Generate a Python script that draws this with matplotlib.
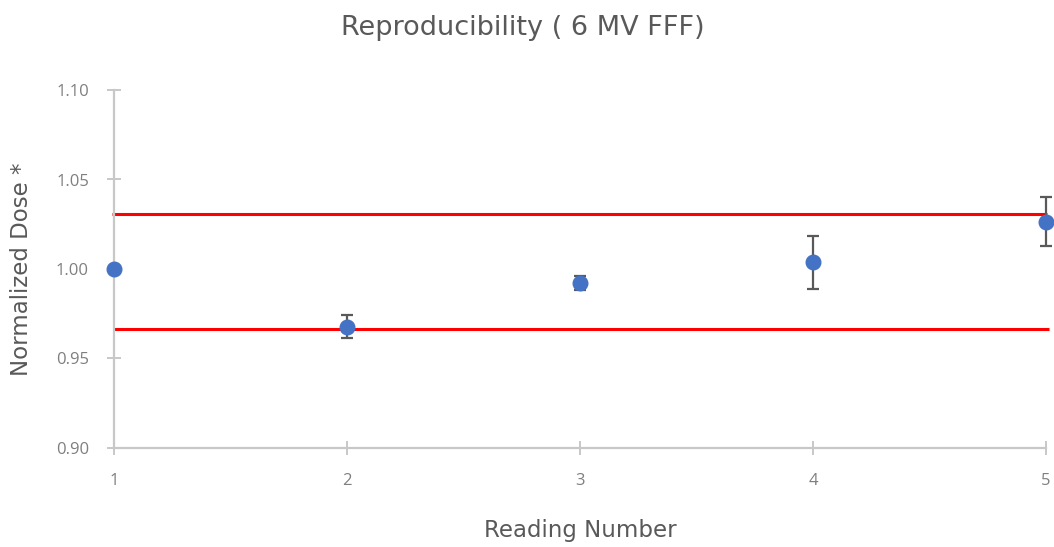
import matplotlib.pyplot as plt

plt.rcParams['font.family'] = ['DejaVu Sans']

# readings and normalized dose with standard deviation
reading = [1, 2, 3, 4, 5]
dose = [1.000, 0.9678, 0.9923, 1.0037, 1.0264]
dose_err = [0.0, 0.0066, 0.004, 0.0147, 0.0136]

# tolerance limits (upper, lower) and their x extent
limit_y = [1.031, 0.9665]
limit_xmin = [0.993, 1.002]
limit_xmax = [5.005, 5.011]

yticks = [0.90, 0.95, 1.00, 1.05, 1.10]

W, H = 1054, 547
fig = plt.figure(figsize=(W / 100, H / 100), dpi=100)
ax = fig.add_axes([114 / W, 1 - 448 / H, (1046 - 114) / W, (448 - 90) / H])

ax.hlines(limit_y, limit_xmin, limit_xmax, colors='#ff0000', linewidth=2.2, zorder=2, clip_on=False)
ax.errorbar(reading, dose, yerr=dose_err, fmt='o', color='#4472c4', markersize=10.5,
            ecolor='#595959', elinewidth=1.6, capsize=4.5, capthick=1.6, zorder=3, clip_on=False)

ax.set_xlim(1, 5)
ax.set_ylim(0.90, 1.10)
ax.set_xticks(reading)
ax.set_yticks(yticks)
ax.set_yticklabels([f'{v:.2f}' for v in yticks])

for s in ['top', 'right']:
    ax.spines[s].set_visible(False)
for s in ['left', 'bottom']:
    ax.spines[s].set_color('#c8c8c8')
    ax.spines[s].set_linewidth(1.6)
ax.tick_params(direction='inout', length=10, width=1.4, color='#c8c8c8',
               labelcolor='#7f7f7f', labelsize=12)
for lbl in ax.get_xticklabels() + ax.get_yticklabels():
    lbl.set_fontfamily('Open Sans')
ax.tick_params(axis='y', pad=13)
ax.tick_params(axis='x', pad=13)

fig.text(523 / W, 1 - 28 / H, 'Reproducibility ( 6 MV FFF)', fontsize=19.5,
         color='#595959', ha='center', va='center')
ax.set_xlabel('Reading Number', fontsize=16.5, color='#595959', va='center')
ax.xaxis.set_label_coords(0.5, (448 - 530) / 358)
ax.set_ylabel('Normalized Dose *', fontsize=16.5, color='#595959', va='center')
ax.yaxis.set_label_coords((22 - 114) / 932, 0.5)

fig.savefig('out.png', dpi=100)
